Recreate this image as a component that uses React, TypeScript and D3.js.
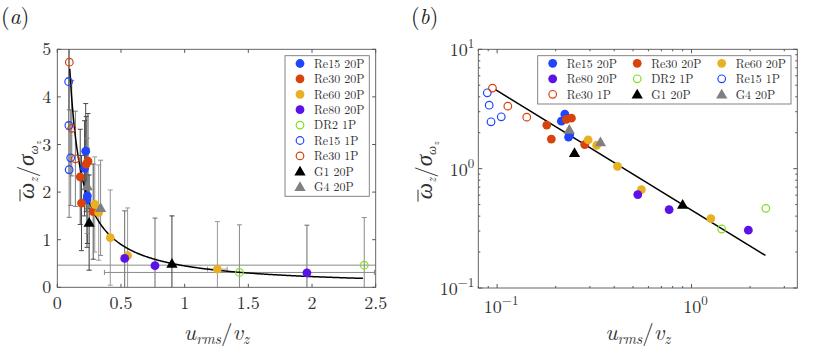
import React from 'react';
import * as d3 from 'd3';

// ---- data ----
const seriesNames = ['Re15 20P', 'Re30 20P', 'Re60 20P', 'Re80 20P', 'DR2 1P', 'Re15 1P', 'Re30 1P', 'G1 20P', 'G4 20P'];

const re15_20P_x = [0.214, 0.223, 0.233, 0.236];
const re15_20P_y = [2.50, 2.86, 1.84, 1.92];
const re30_20P_x = [0.180, 0.190, 0.227, 0.241, 0.282];
const re30_20P_y = [2.32, 1.77, 2.59, 2.65, 1.59];
const re60_20P_x = [0.294, 0.325, 0.416, 0.552, 1.257];
const re60_20P_y = [1.74, 1.57, 1.045, 0.667, 0.382];
const re60_20P_xErr = [0, 0, 0, 0, 0.077];
const re80_20P_x = [0.529, 0.767, 1.96];
const re80_20P_y = [0.606, 0.454, 0.305];
const dr2_1P_x = [1.43, 2.41];
const dr2_1P_y = [0.312, 0.465];
const dr2_1P_xErr = [1.06, 2.5];
const re15_1P_x = [0.089, 0.091, 0.093, 0.105];
const re15_1P_y = [4.32, 3.40, 2.47, 2.72];
const re30_1P_x = [0.0946, 0.1135, 0.142];
const re30_1P_y = [4.73, 3.34, 2.70];
const g1_20P_x = [0.25, 0.90];
const g1_20P_y = [1.36, 0.50];
const g4_20P_x = [0.235, 0.340];
const g4_20P_y = [2.13, 1.67];

// vertical error bars are about +-1 for every point
const yErr = 1.0;

// power-law fit  y = a * x^b
const fitA = 0.45;
const fitB = -1;
const fitRange = [0.098, 2.4];

const linXTicks = [0, 0.5, 1, 1.5, 2, 2.5];
const linYTicks = [0, 1, 2, 3, 4, 5];
const logXTicks = [0.1, 1];
const logYTicks = [0.1, 1, 10];

type Series = { name: string; x: number[]; y: number[]; xErr?: number[]; kind: string; color: string; bar: string };

const series: Series[] = [
  { name: seriesNames[0], x: re15_20P_x, y: re15_20P_y, kind: 'dot', color: '#1f45ff', bar: '#4a4a4a' },
  { name: seriesNames[1], x: re30_20P_x, y: re30_20P_y, kind: 'dot', color: '#d8420c', bar: '#4a4a4a' },
  { name: seriesNames[2], x: re60_20P_x, y: re60_20P_y, xErr: re60_20P_xErr, kind: 'dot', color: '#e9b024', bar: '#9a9a9a' },
  { name: seriesNames[3], x: re80_20P_x, y: re80_20P_y, kind: 'dot', color: '#5a12e6', bar: '#6a6a6a' },
  { name: seriesNames[4], x: dr2_1P_x, y: dr2_1P_y, xErr: dr2_1P_xErr, kind: 'ring', color: '#7ee020', bar: '#8a8a8a' },
  { name: seriesNames[5], x: re15_1P_x, y: re15_1P_y, kind: 'ring', color: '#1f45ff', bar: '#7a7a7a' },
  { name: seriesNames[6], x: re30_1P_x, y: re30_1P_y, kind: 'ring', color: '#d8420c', bar: '#7a7a7a' },
  { name: seriesNames[7], x: g1_20P_x, y: g1_20P_y, kind: 'tri', color: '#000000', bar: '#3a3a3a' },
  { name: seriesNames[8], x: g4_20P_x, y: g4_20P_y, kind: 'tri', color: '#808080', bar: '#8a8a8a' },
];

const TXT = { fontFamily: '"Latin Modern Roman", "Liberation Serif", serif' };
const GRK = { fontFamily: '"Liberation Serif", serif' };
const AX = '#555';
const LEG_FS = 12;
const tri = d3.symbol(d3.symbolTriangle, 55)();

function Marker({ s, cx, cy }: { s: Series; cx: number; cy: number }) {
  if (s.kind === 'dot') return <circle cx={cx} cy={cy} r={4.4} fill={s.color} />;
  if (s.kind === 'ring') return <circle cx={cx} cy={cy} r={3.8} fill="none" stroke={s.color} strokeWidth={1.2} />;
  return <path d={tri as string} transform={`translate(${cx},${cy + 1})`} fill={s.color} />;
}

function YLabel({ x, y }: { x: number; y: number }) {
  return (
    <g transform={`translate(${x},${y}) rotate(-90)`}>
      <text x={-2} textAnchor="middle" style={TXT} fontSize={23} fill="#333" fontStyle="italic">
        <tspan style={GRK}>ω</tspan>
        <tspan fontSize={13} dy={4}>z</tspan>
        <tspan fontStyle="normal" dy={-4}>/</tspan>
        <tspan style={GRK}>σ</tspan>
        <tspan style={GRK} fontSize={13} dy={4}>ω</tspan>
        <tspan fontSize={9} dy={3}>z</tspan>
      </text>
      <line x1={-33} x2={-21} y1={-14} y2={-14} stroke="#333" strokeWidth={1} />
    </g>
  );
}

function XLabel({ x, y }: { x: number; y: number }) {
  return (
    <text x={x} y={y} textAnchor="middle" style={TXT} fontSize={23} fill="#333" fontStyle="italic">
      <tspan>u</tspan>
      <tspan fontSize={15} dy={4}>rms</tspan>
      <tspan fontStyle="normal" dy={-4}>/</tspan>
      <tspan>v</tspan>
      <tspan fontSize={15} dy={4}>z</tspan>
    </text>
  );
}

function Frame({ x0, x1, y0, y1 }: { x0: number; x1: number; y0: number; y1: number }) {
  return <rect x={x0} y={y1} width={x1 - x0} height={y0 - y1} fill="none" stroke={AX} strokeWidth={0.9} />;
}

function LeftPanel() {
  const x = d3.scaleLinear([0, 2.5], [57.3, 375.7]);
  const y = d3.scaleLinear([0, 5], [287.3, 49.3]);
  const [x0, x1] = x.range();
  const [y0, y1] = y.range();
  const fitX = d3.range(fitRange[0], fitRange[1], 0.005).concat([fitRange[1]]);
  const line = d3.line<number>().x((d) => x(d)).y((d) => y(fitA * Math.pow(d, fitB)));
  return (
    <g>
      <defs>
        <clipPath id="clipL">
          <rect x={x0} y={y1} width={x1 - x0} height={y0 - y1} />
        </clipPath>
      </defs>
      <g clipPath="url(#clipL)">
        {series.map((s) =>
          s.x.map((xv, i) => {
            const px = x(xv);
            const top = y(s.y[i] + yErr);
            const bot = y(s.y[i] - yErr);
            const xe = s.xErr ? s.xErr[i] : 0;
            return (
              <g key={s.name + i} stroke={s.bar} strokeWidth={1}>
                <line x1={px} x2={px} y1={top} y2={bot} />
                <line x1={px - 2.5} x2={px + 2.5} y1={top} y2={top} />
                <line x1={px - 2.5} x2={px + 2.5} y1={bot} y2={bot} />
                {xe > 0 && (
                  <g>
                    <line x1={x(xv - xe)} x2={x(xv + xe)} y1={y(s.y[i])} y2={y(s.y[i])} />
                    <line x1={x(xv - xe)} x2={x(xv - xe)} y1={y(s.y[i]) - 2.5} y2={y(s.y[i]) + 2.5} />
                    <line x1={x(xv + xe)} x2={x(xv + xe)} y1={y(s.y[i]) - 2.5} y2={y(s.y[i]) + 2.5} />
                  </g>
                )}
              </g>
            );
          })
        )}
        <path d={line(fitX) as string} fill="none" stroke="#000" strokeWidth={1.5} />
        {series.map((s) => s.x.map((xv, i) => <Marker key={s.name + 'm' + i} s={s} cx={x(xv)} cy={y(s.y[i])} />))}
      </g>
      <Frame x0={x0} x1={x1} y0={y0} y1={y1} />
      {linXTicks.map((t) => (
        <g key={'xt' + t}>
          <line x1={x(t)} x2={x(t)} y1={y0} y2={y0 - 3.5} stroke={AX} />
          <line x1={x(t)} x2={x(t)} y1={y1} y2={y1 + 3.5} stroke={AX} />
          <text x={x(t)} y={y0 + 22} textAnchor="middle" style={TXT} fontSize={18} fill="#333">{t}</text>
        </g>
      ))}
      {linYTicks.map((t) => (
        <g key={'yt' + t}>
          <line x1={x0} x2={x0 + 3.5} y1={y(t)} y2={y(t)} stroke={AX} />
          <line x1={x1} x2={x1 - 3.5} y1={y(t)} y2={y(t)} stroke={AX} />
          <text x={x0 - 6} y={y(t) + 6} textAnchor="end" style={TXT} fontSize={18} fill="#333">{t}</text>
        </g>
      ))}
      <XLabel x={(x0 + x1) / 2} y={340} />
      <YLabel x={34} y={(y0 + y1) / 2} />
      <text x={1} y={24} style={TXT} fontSize={22} fill="#222">
        (<tspan fontStyle="italic">a</tspan>)
      </text>
      {/* legend */}
      <rect x={285} y={55.7} width={84.3} height={140.6} fill="#fff" stroke="#777" strokeWidth={0.9} />
      {series.map((s, i) => (
        <g key={'lg' + i}>
          <Marker s={s} cx={300} cy={63.5 + i * 15.4} />
          <text x={314} y={63.5 + i * 15.4 + 4.2} style={TXT} fontSize={LEG_FS} fill="#333">{s.name}</text>
        </g>
      ))}
    </g>
  );
}

function LogLabel({ x, y, exp, anchor }: { x: number; y: number; exp: number; anchor: string }) {
  return (
    <text x={x} y={y} textAnchor={anchor} style={TXT} fontSize={18} fill="#333">
      10<tspan fontSize={13} dy={-8}>{exp < 0 ? '\u2212' + Math.abs(exp) : String(exp)}</tspan>
    </text>
  );
}

function RightPanel() {
  const x = d3.scaleLog([0.08, 3.5], [478.3, 797.3]);
  const y = d3.scaleLog([0.1, 10], [288, 49.3]);
  const [x0, x1] = x.range();
  const [y0, y1] = y.range();
  const minorX = x.ticks().filter((t) => !logXTicks.includes(t));
  const minorY = y.ticks().filter((t) => !logYTicks.includes(t));
  const fitPts = [fitRange[0], fitRange[1]];
  const line = d3.line<number>().x((d) => x(d)).y((d) => y(fitA * Math.pow(d, fitB)));
  return (
    <g>
      <path d={line(fitPts) as string} fill="none" stroke="#000" strokeWidth={1.5} />
      {series.map((s) => s.x.map((xv, i) => <Marker key={s.name + 'r' + i} s={s} cx={x(xv)} cy={y(s.y[i])} />))}
      <Frame x0={x0} x1={x1} y0={y0} y1={y1} />
      {minorX.map((t) => (
        <g key={'mx' + t} stroke={AX}>
          <line x1={x(t)} x2={x(t)} y1={y0} y2={y0 - 2} />
          <line x1={x(t)} x2={x(t)} y1={y1} y2={y1 + 2} />
        </g>
      ))}
      {minorY.map((t) => (
        <g key={'my' + t} stroke={AX}>
          <line x1={x0} x2={x0 + 2} y1={y(t)} y2={y(t)} />
          <line x1={x1} x2={x1 - 2} y1={y(t)} y2={y(t)} />
        </g>
      ))}
      {logXTicks.map((t) => (
        <g key={'lx' + t}>
          <line x1={x(t)} x2={x(t)} y1={y0} y2={y0 - 4} stroke={AX} />
          <line x1={x(t)} x2={x(t)} y1={y1} y2={y1 + 4} stroke={AX} />
          <LogLabel x={x(t) + 4} y={y0 + 25} exp={Math.round(Math.log10(t))} anchor="middle" />
        </g>
      ))}
      {logYTicks.map((t) => (
        <g key={'ly' + t}>
          <line x1={x0} x2={x0 + 4} y1={y(t)} y2={y(t)} stroke={AX} />
          <line x1={x1} x2={x1 - 4} y1={y(t)} y2={y(t)} stroke={AX} />
          <LogLabel x={x0 - 4} y={y(t) + 7} exp={Math.round(Math.log10(t))} anchor="end" />
        </g>
      ))}
      <XLabel x={(x0 + x1) / 2} y={340} />
      <YLabel x={432} y={(y0 + y1) / 2} />
      <text x={411} y={24} style={TXT} fontSize={22} fill="#222">
        (<tspan fontStyle="italic">b</tspan>)
      </text>
      {/* legend 3 x 3 */}
      <rect x={537.7} y={55.7} width={253.3} height={48.3} fill="#fff" stroke="#777" strokeWidth={0.9} />
      {series.map((s, i) => {
        const col = i % 3;
        const row = Math.floor(i / 3);
        const mx = 552.7 + col * 84.5;
        const my = 63.3 + row * 15.5;
        return (
          <g key={'rl' + i}>
            <Marker s={s} cx={mx} cy={my} />
            <text x={mx + 14} y={my + 4.2} style={TXT} fontSize={LEG_FS} fill="#333">{s.name}</text>
          </g>
        );
      })}
    </g>
  );
}

export default function App() {
  return (
    <svg width={830} height={354} style={{ position: 'absolute', left: 0, top: 0, background: '#fff' }}>
      <LeftPanel />
      <RightPanel />
    </svg>
  );
}
